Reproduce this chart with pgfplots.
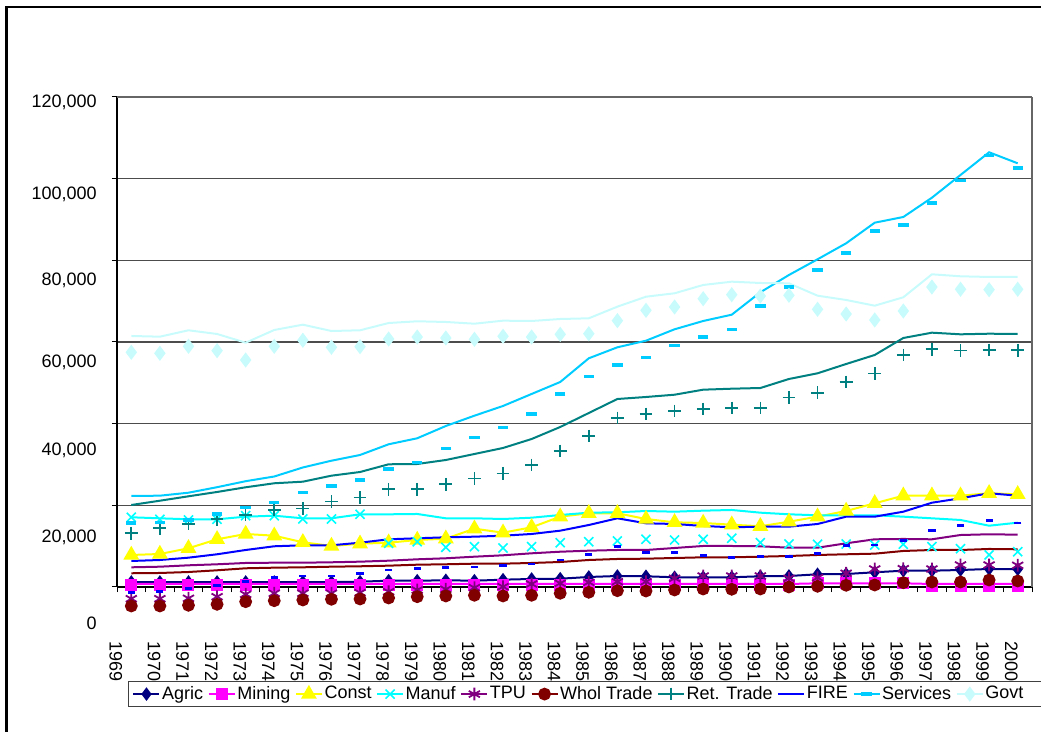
\documentclass[border=0pt]{standalone}
\usepackage{pgfplots}
\pgfplotsset{compat=1.18}
\usepackage{pgfplotstable}
\usepackage{fontspec}
\setmainfont{Liberation Sans}
\definecolor{cAgric}{HTML}{000080}
\definecolor{cMining}{HTML}{FF00FF}
\definecolor{cConst}{HTML}{FFFF00}
\definecolor{cManuf}{HTML}{00FFFF}
\definecolor{cTPU}{HTML}{800080}
\definecolor{cWhol}{HTML}{800000}
\definecolor{cRet}{HTML}{008080}
\definecolor{cFIRE}{HTML}{0000FF}
\definecolor{cServ}{HTML}{00CCFF}
\definecolor{cGovt}{HTML}{C8FCFC}

\pgfplotstableread{
x l
0 1220
1 1220
2 1220
3 1220
4 1220
5 1220
6 1220
7 1220
8 1300
9 1540
10 1540
11 1640
12 1540
13 1790
14 1960
15 2030
16 2450
17 2690
18 2620
19 2380
20 2380
21 2380
22 2620
23 2690
24 3110
25 3180
26 3600
27 3990
28 3990
29 4160
30 4410
31 4330
}\tAgric

\pgfplotstableread{
x l m
0 735 490
1 735 490
2 735 490
3 735 490
4 735 490
5 735 490
6 735 490
7 735 490
8 735 490
9 735 490
10 735 490
11 735 490
12 735 490
13 735 490
14 735 490
15 735 490
16 735 490
17 735 490
18 735 490
19 735 490
20 735 490
21 735 490
22 735 490
23 735 490
24 900 980
25 900 980
26 900 980
27 900 980
28 735 245
29 735 245
30 735 245
31 735 245
}\tMining

\pgfplotstableread{
x l
0 7840
1 8080
2 9480
3 11680
4 12980
5 12560
6 10950
7 10040
8 10600
9 10850
10 11510
11 11830
12 14280
13 13300
14 14620
15 17220
16 18050
17 18050
18 16650
19 15840
20 15670
21 15260
22 14870
23 15990
24 17220
25 18610
26 20500
27 22360
28 22360
29 22360
30 22950
31 22700
}\tConst

\pgfplotstableread{
x l m
0 17070 17070
1 16820 16580
2 16580 16410
3 16580 16580
4 17220 17460
5 17460 17460
6 16820 16650
7 16820 16650
8 17800 17800
9 17800 10700
10 17880 11090
11 16820 9720
12 16820 9870
13 16650 9550
14 16970 9870
15 17630 10850
16 18200 11090
17 18290 11270
18 18610 11680
19 18440 11510
20 18690 11680
21 18860 11930
22 18200 10850
23 17800 10530
24 17560 10460
25 17560 10530
26 17560 10290
27 17220 10460
28 16820 9870
29 16410 9380
30 15010 7840
31 15750 8640
}\tManuf

\pgfplotstableread{
x l m
0 4820 -2870
1 4970 -2870
2 5310 -2770
3 5560 -2380
4 5880 -1790
5 5950 -1540
6 5950 -1540
7 6050 -1540
8 6200 -1400
9 6440 -1150
10 6780 -730
11 7030 -560
12 7420 -170
13 7760 70
14 8250 730
15 8640 910
16 8890 1150
17 9060 1300
18 9060 1300
19 9550 2130
20 10040 2690
21 10040 2690
22 9970 2690
23 9620 2130
24 9620 2280
25 10700 3360
26 11680 4410
27 11760 4480
28 11680 4410
29 12730 5390
30 12910 5390
31 12810 5310
}\tTPU

\pgfplotstableread{
x l m
0 3360 -4650
1 3430 -4650
2 3670 -4480
3 4090 -4240
4 4580 -3600
5 4730 -3360
6 4820 -3180
7 4970 -3010
8 5070 -2940
9 5220 -2690
10 5460 -2380
11 5560 -2200
12 5710 -2030
13 5710 -2200
14 5880 -2030
15 6120 -1540
16 6610 -1300
17 6860 -910
18 6930 -980
19 7100 -730
20 7270 -490
21 7270 -560
22 7420 -490
23 7590 0
24 7840 170
25 8010 420
26 8160 490
27 8820 1050
28 9060 1220
29 9060 1220
30 9310 1710
31 9230 1470
}\tWhol

\pgfplotstableread{
x l m
0 20080 13150
1 21130 14380
2 22210 15430
3 23270 16580
4 24420 17630
5 25400 18860
6 25790 19270
7 27260 20890
8 28160 21870
9 30050 23930
10 30120 23930
11 31100 25150
12 32570 26520
13 34040 27840
14 36240 29880
15 39180 33310
16 42610 36980
17 46040 41390
18 46530 42370
19 47090 43100
20 48320 43590
21 48560 43840
22 48730 43840
23 50940 46360
24 52330 47580
25 54610 50200
26 56820 52330
27 60980 56820
28 62280 58210
29 61880 57870
30 62030 58040
31 61960 57970
}\tRet

\pgfplotstableread{
x l m
0 6370 -1400
1 6610 -1050
2 7180 -420
3 8010 420
4 9060 1300
5 9970 2280
6 10210 2690
7 10210 2690
8 10850 3360
9 11680 4160
10 11930 4580
11 12170 4730
12 12320 4900
13 12560 5310
14 12980 5630
15 13790 6610
16 15180 8010
17 16820 9870
18 15600 8500
19 15430 8400
20 14940 7670
21 14620 7270
22 14770 7520
23 14770 7420
24 15430 8160
25 17220 10210
26 17220 10290
27 18440 11440
28 20640 13890
29 21720 15010
30 22950 16240
31 22360 15670
}\tFIRE

\pgfplotstableread{
x l m
0 22290 15670
1 22360 15750
2 23090 16410
3 24440 17880
4 25910 19520
5 27060 20640
6 29270 23090
7 30930 24730
8 32330 26200
9 34950 28900
10 36420 30540
11 39430 33970
12 41950 36560
13 44330 39110
14 47270 42370
15 50200 47270
16 56010 51600
17 58700 54370
18 60320 56150
19 63110 59090
20 65140 61220
21 66690 63110
22 72170 68820
23 76410 73470
24 80250 77630
25 84170 81800
26 89220 87180
27 90610 88650
28 95340 94040
29 100900 99600
30 106460 105720
31 103760 102610
}\tServ

\pgfplotstableread{
x l m
0 61470 57480
1 61300 57230
2 62865 58950
3 61960 57870
4 59830 55590
5 62940 58950
6 64240 60420
7 62690 58700
8 62865 58850
9 64650 60730
10 65070 61220
11 64900 60980
12 64480 60660
13 65220 61400
14 65140 61220
15 65630 61880
16 65800 62030
17 68650 65220
18 71090 67760
19 71930 68570
20 73960 70600
21 74770 71580
22 74450 71260
23 74370 71440
24 71340 68010
25 70290 66860
26 68890 65390
27 70950 67590
28 76580 73470
29 76090 72910
30 75920 72810
31 75920 72910
}\tGovt

\pgfplotsset{lm/.style={legend image code/.code={%
  \draw[##1,sharp plot,mark=none] (0pt,0pt) -- (13pt,0pt);
  \draw[##1,sharp plot] plot coordinates {(6.5pt,0pt)};}}}

\begin{document}
\begin{tikzpicture}[font=\fontsize{9}{10.5}\selectfont]
\useasboundingbox (0,0) rectangle (520.5pt,366pt);
\draw[line width=1.2pt] (3.3pt,-2pt) -- (3.3pt,362.6pt) -- (525pt,362.6pt);
\begin{axis}[
  at={(58.5pt,72.5pt)}, anchor=south west,
  scale only axis, width=457.5pt, height=245pt,
  xmin=-0.5, xmax=31.5, ymin=0, ymax=120000,
  clip=false,
  scaled y ticks=false, scaled x ticks=false,
  axis x line*=bottom, axis y line*=left,
  axis line style={-, black, line width=0.6pt},
  xtick={-0.5,0.5,...,31.5}, xticklabels={},
  ytick={0,20000,40000,60000,80000,100000,120000}, yticklabels={},
  tick align=outside, major tick length=2.6pt,
  tick style={black, line width=0.5pt},
  ymajorgrids, major grid style={black!70, line width=0.6pt},
  legend columns=-1,
  legend cell align=left,
  legend style={at={(0.012,-0.1918)}, anchor=north west,
    draw=black!75, line width=0.5pt, inner xsep=2pt, inner ysep=0.8pt,
    font=\fontsize{9}{10.5}\selectfont,
    nodes={inner xsep=0.8pt, inner ysep=1.5pt},
    /tikz/every even column/.append style={column sep=1.5pt},
    /tikz/every odd column/.append style={column sep=0pt}},
]
\draw[black!60, line width=0.6pt] (rel axis cs:1,0) -- (rel axis cs:1,1);
\draw[black!60, line width=0.6pt] (rel axis cs:0,1) -- (rel axis cs:1,1);

\addplot[cAgric, line width=1pt, mark=diamond*, mark size=2.6pt, lm] table[x=x,y=l]{\tAgric};

\addplot[cMining, line width=1pt, forget plot] table[x=x,y=l]{\tMining};
\addplot[cMining, line width=1pt, only marks, mark=square*, mark size=2.5pt, lm] table[x=x,y=m]{\tMining};

\addplot[cConst, line width=1pt, mark=triangle*, mark size=3.6pt, lm] table[x=x,y=l]{\tConst};

\addplot[cManuf, line width=1pt, forget plot] table[x=x,y=l]{\tManuf};
\addplot[cManuf, line width=1pt, only marks, mark=x, mark size=3.2pt, mark options={line width=0.8pt}, lm] table[x=x,y=m]{\tManuf};

\addplot[cTPU, line width=1pt, forget plot] table[x=x,y=l]{\tTPU};
\addplot[cTPU, line width=1pt, only marks, mark=asterisk, mark size=3.2pt, mark options={line width=0.9pt}, lm] table[x=x,y=m]{\tTPU};

\addplot[cWhol, line width=1pt, forget plot] table[x=x,y=l]{\tWhol};
\addplot[cWhol, line width=1pt, only marks, mark=*, mark size=2.7pt, lm] table[x=x,y=m]{\tWhol};

\addplot[cRet, line width=1pt, forget plot] table[x=x,y=l]{\tRet};
\addplot[cRet, line width=1pt, only marks, mark=+, mark size=3.2pt, mark options={line width=0.8pt}, lm] table[x=x,y=m]{\tRet};

\addplot[cFIRE, line width=1pt, forget plot] table[x=x,y=l]{\tFIRE};
\addplot[cFIRE, line width=1pt, only marks, mark=-, mark size=1.8pt, mark options={line width=1.4pt}, lm] table[x=x,y=m]{\tFIRE};

\addplot[cServ, line width=1pt, forget plot] table[x=x,y=l]{\tServ};
\addplot[cServ, line width=1pt, only marks, mark=-, mark size=2.6pt, mark options={line width=1.6pt}, lm] table[x=x,y=m]{\tServ};

\addplot[cGovt, line width=1pt, forget plot] table[x=x,y=l]{\tGovt};
\addplot[cGovt, line width=1pt, only marks, mark=diamond*, mark size=3pt, lm] table[x=x,y=m]{\tGovt};

\legend{Agric,Mining,Const,Manuf,TPU,Whol Trade,Ret. Trade,FIRE,Services,Govt\hspace*{8pt}}
\end{axis}

\begin{scope}[every node/.style={anchor=east, inner sep=0pt, text depth=0pt}]
\node at (48.5pt,315.5pt) {120,000};
\node at (48.5pt,269.5pt) {100,000};
\node at (48.5pt,226.5pt) {80,000};
\node at (48.5pt,185.5pt) {60,000};
\node at (48.5pt,141.2pt) {40,000};
\node at (48.5pt,98pt) {20,000};
\node at (48.5pt,54.3pt) {0};
\end{scope}

\node[rotate=-90, anchor=west, inner sep=0pt, text depth=0pt] at (57.9pt,45.5pt) {1969};
\foreach \yr [count=\i from 0] in {1970,...,2000} {
  \pgfmathsetmacro\xx{(154.2+28.57*\i)*0.5}
  \node[rotate=-90, anchor=west, inner sep=0pt, text depth=0pt] at (\xx pt,45.5pt) {\yr};
}
\end{tikzpicture}
\end{document}
